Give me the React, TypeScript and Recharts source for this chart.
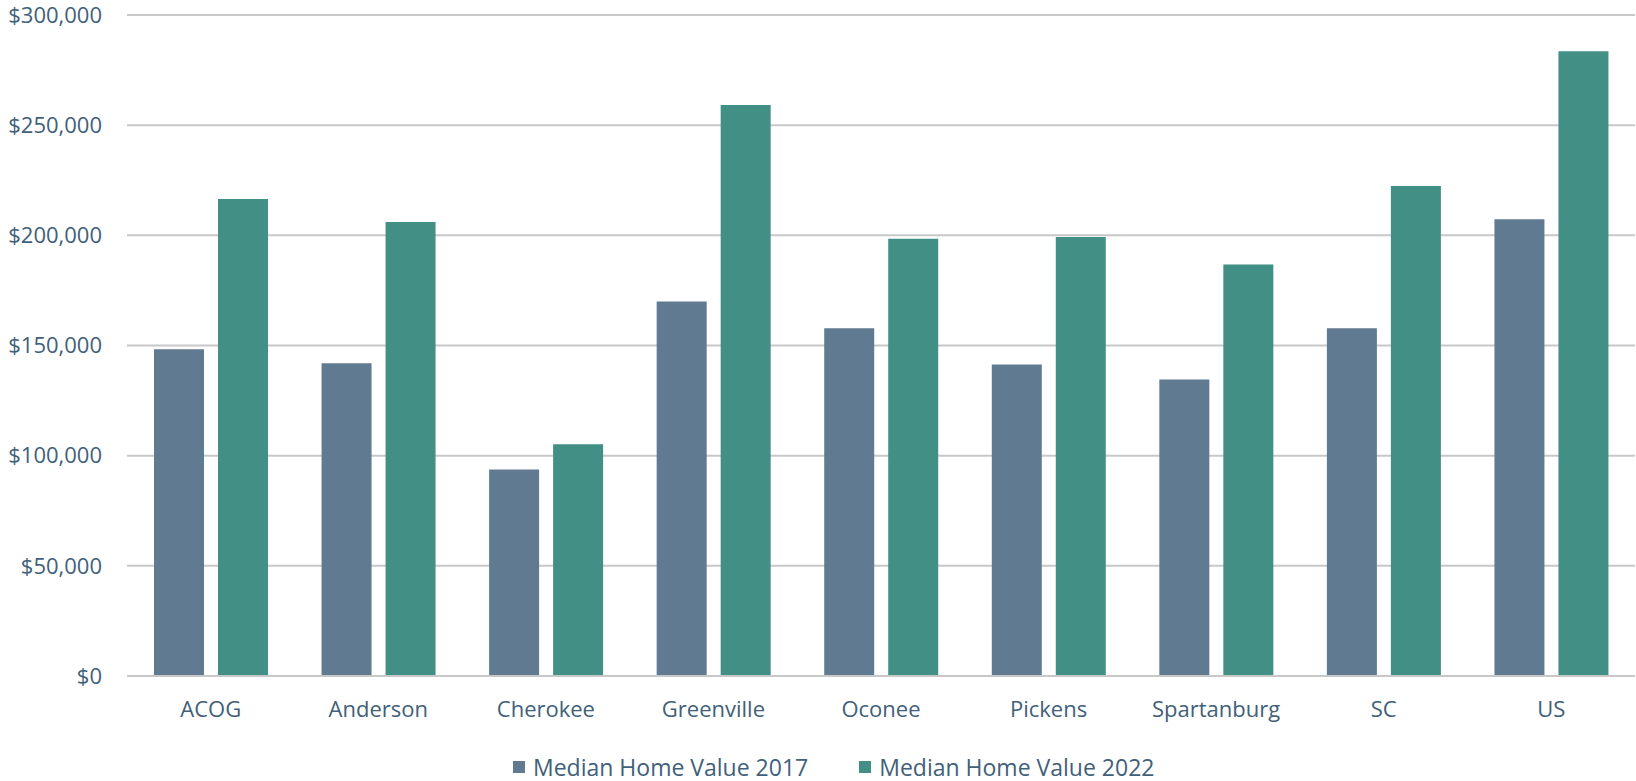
import { Bar, BarChart, CartesianGrid, XAxis, YAxis } from "recharts";

const regions = ["ACOG", "Anderson", "Cherokee", "Greenville", "Oconee", "Pickens", "Spartanburg", "SC", "US"];
const homeValue2017 = [148300, 142000, 93700, 170000, 157800, 141400, 134600, 157800, 207300];
const homeValue2022 = [216500, 206000, 105200, 259200, 198400, 199200, 186800, 222400, 283500];
const valueTicks = [0, 50000, 100000, 150000, 200000, 250000, 300000];

const series = [
  { key: "v2017", name: "Median Home Value 2017", color: "#5f7a91" },
  { key: "v2022", name: "Median Home Value 2022", color: "#418f85" },
];

const data = regions.map((region, i) => ({
  region,
  v2017: homeValue2017[i],
  v2022: homeValue2022[i],
}));

const font = "'Open Sans', 'Noto Sans', sans-serif";
const textColor = "#41607a";
const tickStyle = { fill: textColor, fontSize: 22, fontFamily: font };

const money = (v: number) => `$${v.toLocaleString("en-US")}`;

export default function App() {
  return (
    <div style={{ position: "absolute", left: 0, top: 0, width: 1636, height: 781, background: "#fff", fontFamily: font }}>
      <BarChart
        width={1636}
        height={781}
        data={data}
        barSize={50}
        barGap={14}
        margin={{ top: 15, right: 1, bottom: 65, left: 0 }}
      >
        <CartesianGrid vertical={false} stroke="#c8c8c8" strokeWidth={2} />
        <XAxis
          dataKey="region"
          height={40}
          axisLine={{ stroke: "#c8c8c8", strokeWidth: 2 }}
          tickLine={false}
          tickSize={0}
          tickMargin={25}
          tick={tickStyle}
          interval={0}
        />
        <YAxis
          width={127}
          domain={[0, 300000]}
          ticks={valueTicks}
          tickFormatter={money}
          axisLine={false}
          tickLine={false}
          tickSize={0}
          tickMargin={25}
          tick={tickStyle}
        />
        {series.map((s) => (
          <Bar key={s.key} dataKey={s.key} name={s.name} fill={s.color} isAnimationActive={false} />
        ))}
      </BarChart>
      {/* legend sits under the axis labels, squares left of each series name */}
      <div
        style={{
          position: "absolute",
          left: 513,
          top: 753,
          display: "flex",
          alignItems: "center",
          height: 28,
          color: textColor,
          fontSize: 23,
          whiteSpace: "nowrap",
        }}
      >
        {series.map((s, i) => (
          <div key={s.key} style={{ display: "flex", alignItems: "center", marginLeft: i === 0 ? 0 : 51 }}>
            <span style={{ display: "inline-block", width: 12, height: 12, background: s.color, marginRight: 8 }} />
            <span>{s.name}</span>
          </div>
        ))}
      </div>
    </div>
  );
}
